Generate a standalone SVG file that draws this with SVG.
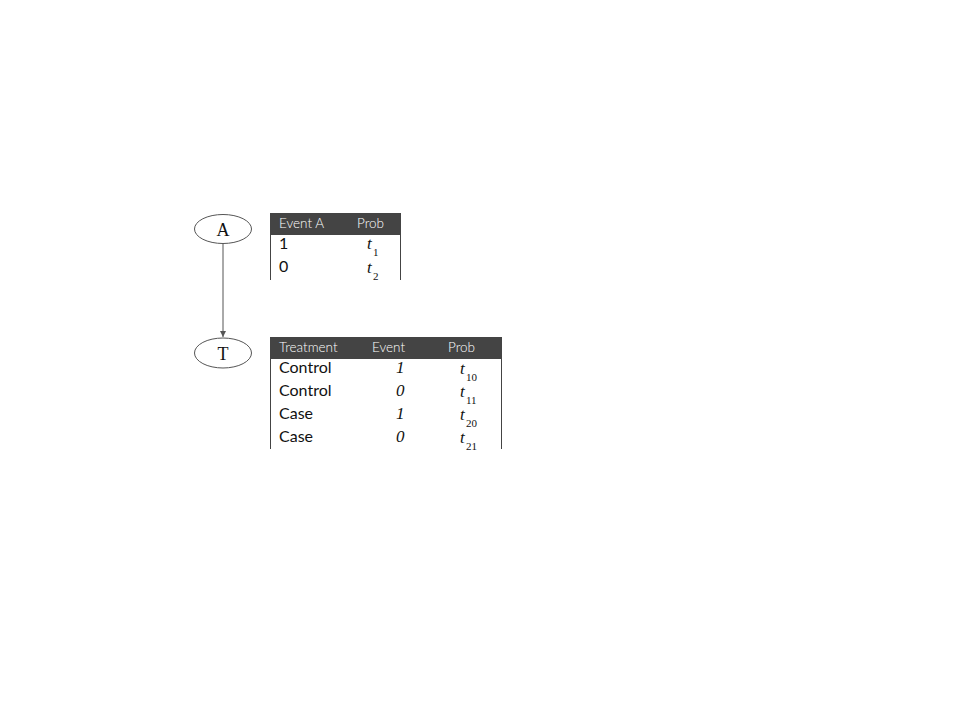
<svg xmlns="http://www.w3.org/2000/svg" width="960" height="720" viewBox="0 0 960 720">
<style>
.node ellipse{fill:#fff;stroke:#555;stroke-width:1}
.node text{font-family:"Liberation Serif",serif;font-size:18px;fill:#111;text-anchor:middle}
.hdr{fill:#444}
.ht{font-family:Lato,"Liberation Sans",sans-serif;font-size:13.5px;font-weight:300;fill:#fff}
.rt{font-family:Lato,"Liberation Sans",sans-serif;font-size:16px;fill:#111}
.mi{font-family:"Liberation Serif",serif;font-style:italic;font-size:17px;fill:#111}
.sub{font-family:"Liberation Serif",serif;font-size:11px;fill:#111}
.bd{stroke:#444;stroke-width:1}
.conn{stroke:#555;stroke-width:1;fill:none}
</style>
<defs>
<marker id="arr" markerWidth="8" markerHeight="8" refX="6" refY="3" orient="auto" markerUnits="userSpaceOnUse">
<path d="M0,0 L6,3 L0,6 Z" fill="#555"/>
</marker>
</defs>
<g id="connectors">
<line class="conn" x1="223" y1="244" x2="223" y2="337" marker-end="url(#arr)"/>
</g>
<g id="nodeA" class="node">
<ellipse cx="223" cy="229" rx="28.5" ry="14.5"/>
<text x="223" y="236">A</text>
</g>
<g id="nodeT" class="node">
<ellipse cx="223" cy="353" rx="28.5" ry="15"/>
<text x="223" y="360">T</text>
</g>
<g id="tableA">
<rect class="hdr" x="270" y="213" width="131" height="22"/>
<line class="bd" x1="270.5" y1="235" x2="270.5" y2="280"/>
<line class="bd" x1="400.5" y1="235" x2="400.5" y2="280"/>
<text class="ht" x="279" y="228">Event A</text>
<text class="ht" x="357" y="228">Prob</text>
<text class="rt" x="279" y="249">1</text>
<text class="rt" x="279" y="272">0</text>
<text class="mi" x="367" y="249">t</text><text class="sub" x="373" y="256">1</text>
<text class="mi" x="367" y="273">t</text><text class="sub" x="373" y="280">2</text>
</g>
<g id="tableT">
<rect class="hdr" x="270" y="337" width="232" height="22"/>
<line class="bd" x1="270.5" y1="359" x2="270.5" y2="449"/>
<line class="bd" x1="501.5" y1="359" x2="501.5" y2="449"/>
<text class="ht" x="279" y="352">Treatment</text>
<text class="ht" x="372" y="352">Event</text>
<text class="ht" x="448" y="352">Prob</text>
<text class="rt" x="279" y="373">Control</text>
<text class="rt" x="279" y="396">Control</text>
<text class="rt" x="279" y="419">Case</text>
<text class="rt" x="279" y="442">Case</text>
<text class="mi" x="396" y="373">1</text>
<text class="mi" x="396" y="396">0</text>
<text class="mi" x="396" y="419">1</text>
<text class="mi" x="396" y="442">0</text>
<text class="mi" x="460" y="374">t</text><text class="sub" x="466" y="381">10</text>
<text class="mi" x="460" y="397">t</text><text class="sub" x="466" y="404">11</text>
<text class="mi" x="460" y="420">t</text><text class="sub" x="466" y="427">20</text>
<text class="mi" x="460" y="443">t</text><text class="sub" x="466" y="450">21</text>
</g>
</svg>
